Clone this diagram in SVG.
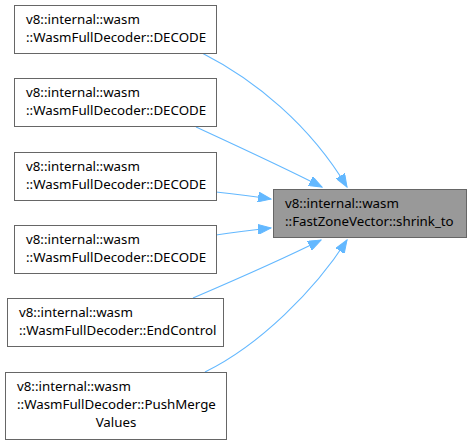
<svg xmlns="http://www.w3.org/2000/svg" width="471" height="445" viewBox="0 0 471 445">
<defs>
<style>
.box{fill:#ffffff;stroke:#666666;stroke-width:1}
.target{fill:#999999;stroke:#666666;stroke-width:1}
.t{font-family:"Noto Sans","DejaVu Sans",sans-serif;font-size:13.3px;fill:#000000}
.e{fill:none;stroke:#63b8ff;stroke-width:1.1;marker-end:url(#ah)}
</style>
<marker id="ah" markerUnits="userSpaceOnUse" markerWidth="14" markerHeight="10" refX="13" refY="5" orient="auto">
<path d="M0,0 L13,5 L0,10 z" fill="#63b8ff" stroke="#63b8ff" stroke-width="1"/>
</marker>
</defs>
<rect width="471" height="445" fill="#ffffff"/>
<g id="connectors">
<path class="e" d="M202,53 C255,80 310,125 347,187"/>
<path class="e" d="M196,127 C235,145 285,168 322,187"/>
<path class="e" d="M216,192 C235,194 252,196 271,199"/>
<path class="e" d="M216,235 C235,232 252,230 271,228"/>
<path class="e" d="M193,298 C235,280 285,258 321,240"/>
<path class="e" d="M205,372 C260,345 315,290 347,240"/>
</g>
<g id="node1">
<rect class="box" x="14.5" y="5.5" width="202" height="48"/>
<text class="t" x="26" y="24">v8::internal::wasm</text>
<text class="t" x="26" y="42">::WasmFullDecoder::DECODE</text>
</g>
<g id="node2">
<rect class="box" x="14.5" y="78.5" width="202" height="48"/>
<text class="t" x="26" y="97">v8::internal::wasm</text>
<text class="t" x="26" y="115">::WasmFullDecoder::DECODE</text>
</g>
<g id="node3">
<rect class="box" x="14.5" y="152.5" width="202" height="48"/>
<text class="t" x="26" y="171">v8::internal::wasm</text>
<text class="t" x="26" y="189">::WasmFullDecoder::DECODE</text>
</g>
<g id="node4">
<rect class="box" x="14.5" y="225.5" width="202" height="48"/>
<text class="t" x="26" y="244">v8::internal::wasm</text>
<text class="t" x="26" y="262">::WasmFullDecoder::DECODE</text>
</g>
<g id="node5">
<rect class="box" x="7.5" y="298.5" width="216" height="48"/>
<text class="t" x="19" y="317">v8::internal::wasm</text>
<text class="t" x="19" y="335">::WasmFullDecoder::EndControl</text>
</g>
<g id="node6">
<rect class="box" x="5.5" y="372.5" width="221" height="67"/>
<text class="t" x="17" y="391">v8::internal::wasm</text>
<text class="t" x="17" y="409">::WasmFullDecoder::PushMerge</text>
<text class="t" x="116" y="427" text-anchor="middle">Values</text>
</g>
<g id="target">
<rect class="target" x="273.5" y="189.5" width="193" height="48"/>
<text class="t" x="285" y="208">v8::internal::wasm</text>
<text class="t" x="285" y="226">::FastZoneVector::shrink_to</text>
</g>
</svg>
